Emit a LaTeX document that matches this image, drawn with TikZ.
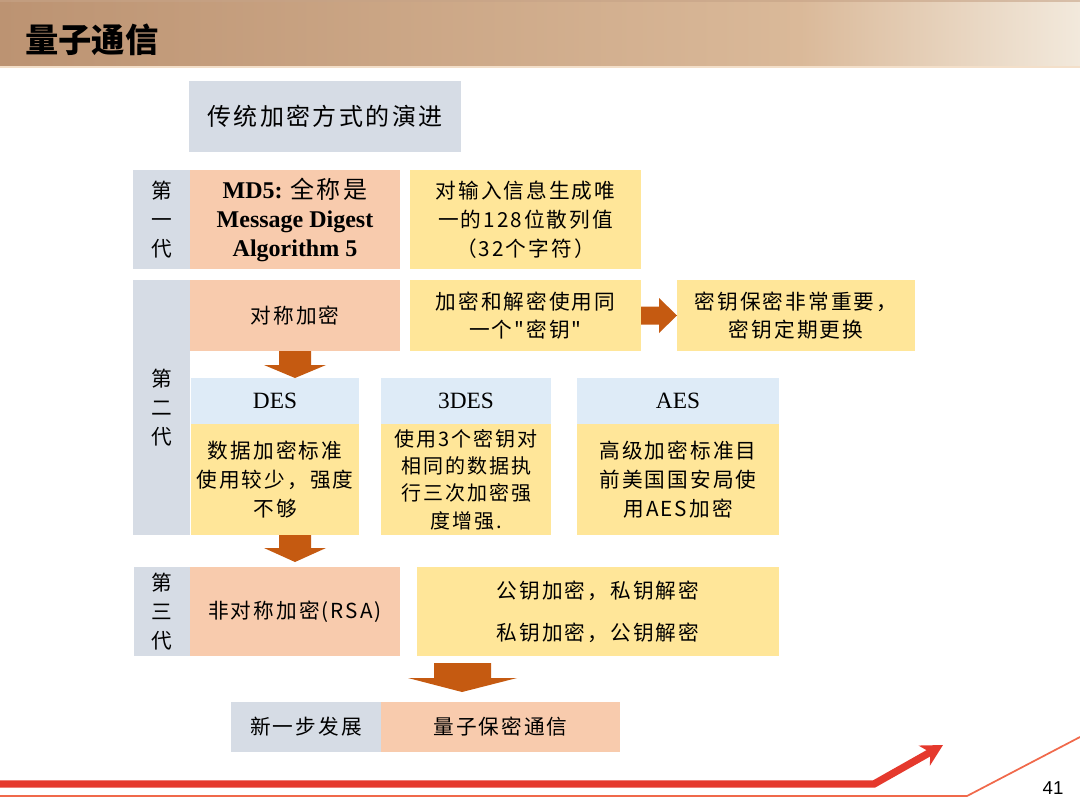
\documentclass[tikz,border=0pt]{standalone}
\usepackage{fontspec}
\setmainfont{Liberation Serif}
\newfontfamily\cjk[LetterSpace=10]{Noto Sans CJK SC}
\newfontfamily\cjktitle{Noto Sans CJK SC}
\newfontfamily\numfont{Liberation Sans}
\usetikzlibrary{arrows.meta}
\definecolor{grayc}{HTML}{D6DCE5}
\definecolor{pinkc}{HTML}{F8CBAD}
\definecolor{yellowc}{HTML}{FFE699}
\definecolor{bluec}{HTML}{DEEBF7}
\definecolor{arrc}{HTML}{C55A11}
\definecolor{hdrA}{HTML}{BC9372}
\definecolor{hdrB}{HTML}{DAB999}
\definecolor{hdrC}{HTML}{F2E9DC}
\definecolor{hdrLine}{HTML}{F3DFC9}
\definecolor{redthick}{HTML}{E5392D}
\definecolor{redthin}{HTML}{F0694B}
\newcommand\zh{\cjk\fontsize{15.5}{21.5}\selectfont}
\newcommand\zhtight{\cjk\fontsize{15}{20.5}\selectfont}
\newcommand\mkbox[7]{\node[#5, minimum width={(#3-#1)*0.75pt}, minimum height={(#4-#2)*0.75pt}] (#6) at (#1,#2) {#7};}
\tikzset{
  base/.style={inner sep=0pt, outer sep=0pt, align=center, text=black, anchor=north west},
  gbox/.style={base, fill=grayc},
  pbox/.style={base, fill=pinkc},
  ybox/.style={base, fill=yellowc},
  bbox/.style={base, fill=bluec},
  zhf/.style={font=\zh},
  latf/.style={font=\fontsize{17.5}{20}\selectfont},
  arr/.style={fill=arrc, draw=none},
}
\begin{document}
\begin{tikzpicture}[x=0.75pt, y=-0.75pt]
\useasboundingbox (0,0) rectangle (1080,809);
% header
\shade[left color=hdrA, right color=hdrB] (0,0) rectangle (800,66);
\shade[left color=hdrB, right color=hdrC] (800,0) rectangle (1080,66);
\fill[hdrA!85!white, opacity=0.6] (0,0) rectangle (1080,2);
\fill[hdrLine] (0,66) rectangle (1080,68);
\node[anchor=west, inner sep=0pt, font=\cjktitle\bfseries\fontsize{25}{28}\selectfont] (title) at (25,40) {量子通信};

% title box
\mkbox{189}{81}{461}{152}{gbox, font=\cjk\fontsize{18}{22}\selectfont}{evo}{传统加密方式的演进}

% generation 1
\mkbox{133}{170}{190}{269}{gbox, font=\cjk\fontsize{15.5}{21.75}\selectfont}{g1}{第\\一\\代}
\mkbox{190}{170}{400}{269}{pbox, font=\fontsize{18}{21.75}\selectfont\bfseries}{md5}{MD5: {\cjk\mdseries 全称是}\\Message Digest\\Algorithm 5}
\mkbox{410}{170}{641}{269}{ybox, font=\cjk\fontsize{15.5}{21.75}\selectfont}{hash}{对输入信息生成唯\\一的128位散列值\\（32个字符）}

% generation 2
\mkbox{133}{280}{190}{535}{gbox, font=\cjk\fontsize{15.5}{21.5}\selectfont}{g2}{第\\二\\代}
\mkbox{190}{280}{400}{351}{pbox, zhf}{sym}{对称加密}
\mkbox{410}{280}{641}{351}{ybox, zhf}{same}{加密和解密使用同\\一个"密钥"}
\mkbox{677}{280}{915}{351}{ybox, zhf}{imp}{密钥保密非常重要，\\密钥定期更换}

\mkbox{191}{378}{359}{424}{bbox, latf}{desh}{DES}
\mkbox{191}{424}{359}{535}{ybox, zhf}{desb}{数据加密标准\\使用较少，强度\\不够}
\mkbox{381}{378}{551}{424}{bbox, latf}{tdesh}{3DES}
\mkbox{381}{424}{551}{535}{ybox, font=\zhtight}{tdesb}{使用3个密钥对\\相同的数据执\\行三次加密强\\度增强.}
\mkbox{577}{378}{779}{424}{bbox, latf}{aesh}{AES}
\mkbox{577}{424}{779}{535}{ybox, zhf}{aesb}{高级加密标准目\\前美国国安局使\\用AES加密}

% generation 3
\mkbox{134}{567}{190}{656}{gbox, zhf}{g3}{第\\三\\代}
\mkbox{190}{567}{400}{656}{pbox, zhf}{rsa}{非对称加密(RSA)}
\mkbox{417}{567}{779}{656}{ybox, zhf}{keys}{公钥加密，私钥解密\\[10pt]私钥加密，公钥解密}

% next step
\mkbox{231}{702}{381}{752}{gbox, zhf}{next}{新一步发展}
\mkbox{381}{702}{620}{752}{pbox, zhf}{quant}{量子保密通信}

% block arrows
\begin{scope}[shift={(sym.south)}]
  \fill[arr] (-16,0) -- (-16,14) -- (-31,14) -- (0,27) -- (31,14) -- (16,14) -- (16,0) -- cycle;
\end{scope}
\begin{scope}[shift={(rsa.north)}]
  \fill[arr] (-16,-32) -- (-16,-19) -- (-31,-19) -- (0,-5) -- (31,-19) -- (16,-19) -- (16,-32) -- cycle;
\end{scope}
\begin{scope}[shift={(quant.north west)}]
  \fill[arr] (53,-39) -- (53,-24) -- (27,-24) -- (81,-10) -- (136,-24) -- (110,-24) -- (110,-39) -- cycle;
\end{scope}
\begin{scope}[shift={(same.east)}]
  \fill[arr] (0,-9) -- (18,-9) -- (18,-17.5) -- (36,0) -- (18,17.5) -- (18,9) -- (0,9) -- cycle;
\end{scope}

% bottom decoration
\coordinate (tl0) at (0,784);
\coordinate (tl1) at (874,784);
\coordinate (tl2) at (943,745);
\draw[redthick, line width=5.5pt, line join=miter, -{Stealth[length=16pt, width=17pt, inset=5pt]}] (tl0) -- (tl1) -- (tl2);
\coordinate (sl0) at (0,796);
\coordinate (sl1) at (967,796);
\coordinate (sl2) at (1080,737);
\draw[redthin, line width=1.3pt] (sl0) -- (sl1) -- (sl2);
\node[anchor=center, inner sep=0pt, font=\numfont\fontsize{14}{16}\selectfont] (pg) at (1053,788) {41};
\end{tikzpicture}
\end{document}
